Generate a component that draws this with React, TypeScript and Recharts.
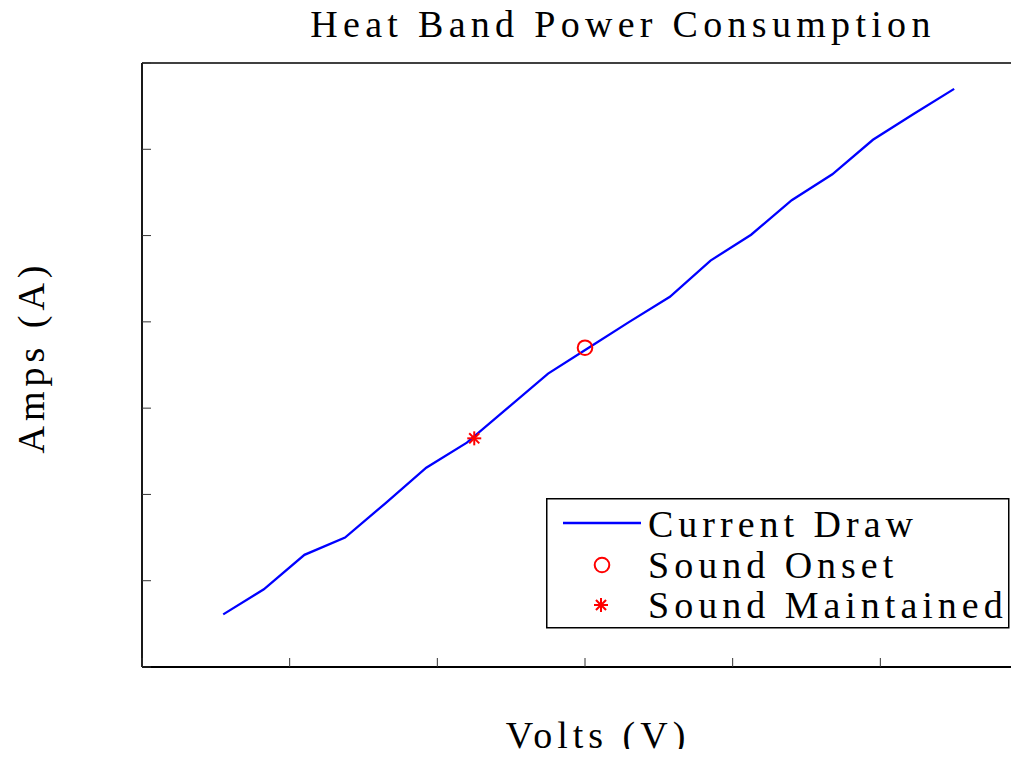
import React from 'react';
import { ComposedChart, Line, Scatter, XAxis, YAxis, Legend } from 'recharts';

const volts = [11, 16.5, 22, 27.5, 33, 38.5, 44, 49.5, 55, 60.5, 66, 71.5, 77, 82.5, 88, 93.5, 99, 104.5, 110];
const amps = [0.061, 0.09, 0.13, 0.15, 0.19, 0.231, 0.26, 0.3, 0.34, 0.37, 0.4, 0.429, 0.471, 0.501, 0.541, 0.571, 0.611, 0.641, 0.67];
const onsetVolts = [60];
const onsetAmps = [0.37];
const maintainedVolts = [45];
const maintainedAmps = [0.265];
const xTicks = [0, 20, 40, 60, 80, 100, 120];
const yTicks = [0, 0.1, 0.2, 0.3, 0.4, 0.5, 0.6, 0.7];
const legendOrder = ['Current Draw', 'Sound Onset', 'Sound Maintained'];

const lineData = volts.map((v, i) => ({ v, a: amps[i] }));
const onsetData = onsetVolts.map((v, i) => ({ v, a: onsetAmps[i] }));
const maintainedData = maintainedVolts.map((v, i) => ({ v, a: maintainedAmps[i] }));

const textStyle: React.CSSProperties = {
  fontFamily: '"Liberation Serif", "DejaVu Serif", serif',
  fontSize: 38,
  letterSpacing: 5,
  fill: '#000',
};
const titleStyle: React.CSSProperties = { ...textStyle, letterSpacing: 5.3 };
const TICK = '#333';

const BottomTick = (p: any) => <line x1={p.x} x2={p.x} y1={p.y} y2={p.y - 9} stroke={TICK} strokeWidth={1} />;
const TopTick = (p: any) => <line x1={p.x} x2={p.x} y1={p.y} y2={p.y + 9} stroke={TICK} strokeWidth={1} />;
const LeftTick = (p: any) => <line x1={p.x} x2={p.x + 9} y1={p.y} y2={p.y} stroke={TICK} strokeWidth={1} />;

const CircleMark = ({ cx, cy }: any) => (
  <circle cx={cx} cy={cy} r={7.3} fill="none" stroke="#ff0000" strokeWidth={2} />
);
const StarMark = ({ cx, cy }: any) => {
  const r = 7;
  const d = r * 0.72;
  return (
    <g stroke="#ff0000" strokeWidth={2}>
      <line x1={cx - r} x2={cx + r} y1={cy} y2={cy} />
      <line x1={cx} x2={cx} y1={cy - r} y2={cy + r} />
      <line x1={cx - d} x2={cx + d} y1={cy - d} y2={cy + d} />
      <line x1={cx - d} x2={cx + d} y1={cy + d} y2={cy - d} />
    </g>
  );
};

const LegendBox = (props: any) => {
  const payload = [...(props.payload || [])].sort(
    (a: any, b: any) => legendOrder.indexOf(a.value) - legendOrder.indexOf(b.value)
  );
  const rowsY = [25, 67, 107];
  const baseY = [38.7, 80, 120];
  return (
    <svg width={464} height={131} style={{ display: 'block' }}>
      <rect x={0.75} y={0.75} width={462} height={129} fill="#fff" stroke="#000" strokeWidth={1.5} />
      {payload.map((e: any, i: number) => {
        const name = e.value;
        let icon = null;
        if (name === 'Current Draw') icon = <line x1={17} x2={95} y1={rowsY[i]} y2={rowsY[i]} stroke="#0000ff" strokeWidth={2.3} />;
        else if (name === 'Sound Onset') icon = <CircleMark cx={56} cy={rowsY[i]} />;
        else icon = <StarMark cx={55} cy={rowsY[i]} />;
        return (
          <g key={name}>
            {icon}
            <text x={102} y={baseY[i]} style={textStyle}>{name}</text>
          </g>
        );
      })}
    </svg>
  );
};

export default function App() {
  return (
    <div style={{ margin: -8, width: 1019, height: 757, overflow: 'hidden', position: 'relative', background: '#fff' }}>
      <ComposedChart width={1040} height={757} margin={{ top: 62, right: 12, bottom: 89, left: 141 }}>
        <XAxis
          xAxisId="bottom"
          dataKey="v"
          type="number"
          domain={[0, 120]}
          ticks={xTicks}
          interval={0}
          height={1}
          tickSize={0}
          tickMargin={0}
          tickLine={false}
          tick={<BottomTick />}
          axisLine={{ stroke: '#000', strokeWidth: 1.8 }}
        />
        <XAxis
          xAxisId="top"
          orientation="top"
          dataKey="v"
          type="number"
          domain={[0, 120]}
          ticks={xTicks}
          interval={0}
          height={1}
          tickSize={0}
          tickMargin={0}
          tickLine={false}
          tick={<TopTick />}
          axisLine={{ stroke: '#000', strokeWidth: 1.4 }}
        />
        <YAxis
          yAxisId="left"
          type="number"
          domain={[0, 0.7]}
          ticks={yTicks}
          interval={0}
          width={1}
          tickSize={0}
          tickMargin={0}
          tickLine={false}
          tick={<LeftTick />}
          axisLine={{ stroke: '#000', strokeWidth: 1.8 }}
        />
        <Line
          xAxisId="bottom"
          yAxisId="left"
          data={lineData}
          dataKey="a"
          name="Current Draw"
          stroke="#0000ff"
          strokeWidth={2.3}
          dot={false}
          activeDot={false}
          isAnimationActive={false}
        />
        <Scatter
          xAxisId="bottom"
          yAxisId="left"
          data={onsetData}
          dataKey="a"
          name="Sound Onset"
          shape={<CircleMark />}
          isAnimationActive={false}
        />
        <Scatter
          xAxisId="bottom"
          yAxisId="left"
          data={maintainedData}
          dataKey="a"
          name="Sound Maintained"
          shape={<StarMark />}
          isAnimationActive={false}
        />
        <Legend
          layout="vertical"
          align="center"
          verticalAlign="middle"
          content={<LegendBox />}
          wrapperStyle={{ left: 546, top: 498, width: 464, height: 131 }}
        />
        <text x={623} y={37} textAnchor="middle" style={titleStyle}>
          Heat Band Power Consumption
        </text>
        <text x={598} y={748} textAnchor="middle" style={textStyle}>
          Volts (V)
        </text>
        <text x={44} y={357} textAnchor="middle" transform="rotate(-90 44 357)" style={textStyle}>
          Amps (A)
        </text>
      </ComposedChart>
    </div>
  );
}
